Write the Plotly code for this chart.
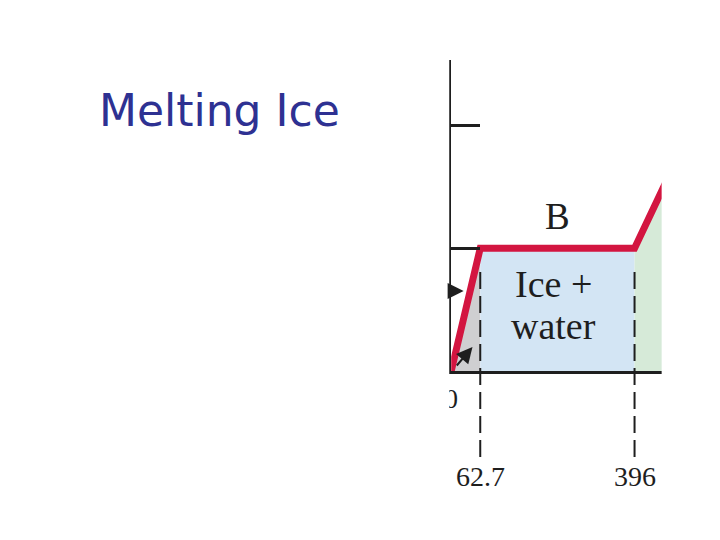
import plotly.graph_objects as go

# Heating curve of 1 g of ice (energy added in J, temperature in °C)
energy = [0, 62.7, 396, 815]
temperature = [-30, 0, 0, 100]
marked_energy = [62.7, 396]
marked_labels = ["62.7", "396"]
axis_tick_energy = [0, 500]
axis_tick_labels = ["0", "500"]
temp_ticks = [0, 30]
region_label = ["Ice +", "water"]
point_label = "B"
title_text = "Melting Ice"

W, H = 720, 540
OFF = 8  # page body margin


def px(x):
    return (x - OFF) / W


def py(y):
    return (H - (y - OFF)) / H


RED = "#d31540"
INK = "#1e1e1e"
X0 = 448.5          # page x of 0 J
SCALE = 0.4675      # px per J

fig = go.Figure()

# gray region: ice warming
fig.add_trace(go.Scatter(
    x=[energy[0], energy[1], energy[1]],
    y=[temperature[0], temperature[1], temperature[0]],
    fill="toself", fillcolor="#cfcfd1", line=dict(width=0), mode="lines",
    hoverinfo="skip"))
# blue region: ice + water
fig.add_trace(go.Scatter(
    x=[energy[1], energy[2], energy[2], energy[1]],
    y=[temperature[1], temperature[2], temperature[0], temperature[0]],
    fill="toself", fillcolor="#d3e5f4", line=dict(width=0), mode="lines",
    hoverinfo="skip"))
# green region: water warming
fig.add_trace(go.Scatter(
    x=[energy[2], energy[3], energy[3], energy[2]],
    y=[temperature[2], temperature[3], temperature[0], temperature[0]],
    fill="toself", fillcolor="#d6ead8", line=dict(width=0), mode="lines",
    hoverinfo="skip"))
# heating curve
fig.add_trace(go.Scatter(
    x=energy, y=temperature, mode="lines",
    line=dict(color=RED, width=7), hoverinfo="skip"))

shapes = []
# dashed guide lines
for e in marked_energy:
    shapes.append(dict(type="line", xref="x", yref="paper",
                       x0=e, x1=e, y0=py(457), y1=py(266),
                       line=dict(color=INK, width=2, dash="17px,7px"),
                       layer="above"))
# crop masks
shapes.append(dict(type="rect", xref="paper", yref="paper",
                   x0=0, x1=px(446.5), y0=0, y1=1,
                   fillcolor="white", line=dict(width=0), layer="above"))
shapes.append(dict(type="rect", xref="paper", yref="paper",
                   x0=px(661), x1=1, y0=0, y1=1,
                   fillcolor="white", line=dict(width=0), layer="above"))

annotations = []
for e, lab in zip(marked_energy, marked_labels):
    annotations.append(dict(x=e, xref="x", y=py(476), yref="paper",
                            text=lab, showarrow=False,
                            font=dict(family="Liberation Serif", size=28, color=INK),
                            xanchor="center", yanchor="middle"))
annotations.append(dict(x=(energy[1] + energy[2]) / 2, xref="x", y=py(216), yref="paper",
                        text=point_label, showarrow=False,
                        font=dict(family="Liberation Serif", size=37, color=INK)))
annotations.append(dict(x=(energy[1] + energy[2]) / 2 - 8, xref="x", y=py(284), yref="paper",
                        text=region_label[0], showarrow=False,
                        font=dict(family="Liberation Serif", size=38, color=INK)))
annotations.append(dict(x=(energy[1] + energy[2]) / 2 - 8, xref="x", y=py(326), yref="paper",
                        text=region_label[1], showarrow=False,
                        font=dict(family="Liberation Serif", size=38, color=INK)))
# small arrows
annotations.append(dict(x=px(461), y=py(291), xref="paper", yref="paper", text="",
                        showarrow=True, ax=-11, ay=0, arrowhead=2, arrowsize=1.6,
                        arrowwidth=2, arrowcolor=INK))
annotations.append(dict(x=px(470), y=py(347), xref="paper", yref="paper", text="",
                        showarrow=True, ax=-17, ay=20, arrowhead=2, arrowsize=1.6,
                        arrowwidth=2, arrowcolor=INK))
# slide title
annotations.append(dict(x=px(91), y=py(110), xref="paper", yref="paper",
                        text=title_text, showarrow=False, xanchor="left", yanchor="middle",
                        font=dict(family="DejaVu Sans", size=44, color="#2e3192")))

fig.update_layout(
    width=W, height=H, margin=dict(l=0, r=0, t=0, b=0),
    paper_bgcolor="white", plot_bgcolor="white", showlegend=False,
    shapes=shapes, annotations=annotations,
    xaxis=dict(domain=[px(X0), 1], range=[0, (W + OFF - X0) / SCALE],
               showgrid=False, zeroline=False, showline=True,
               linecolor=INK, linewidth=3,
               tickvals=axis_tick_energy, ticktext=axis_tick_labels,
               ticks="outside", ticklen=2, tickcolor="rgba(0,0,0,0)",
               tickfont=dict(family="Liberation Serif", size=27, color=INK)),
    yaxis=dict(domain=[py(371), py(60)], range=[-30, 46],
               showgrid=False, zeroline=False, showline=True,
               linecolor=INK, linewidth=2.5,
               tickvals=temp_ticks, ticks="inside", ticklen=29, tickwidth=2.5,
               tickcolor=INK, showticklabels=False),
)

fig.write_html("out.html")
